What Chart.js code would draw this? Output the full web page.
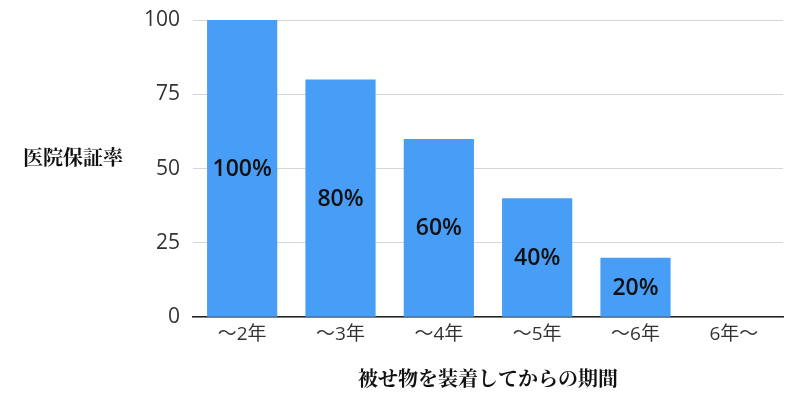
<!DOCTYPE html>
<html lang="ja">
<head>
<meta charset="utf-8">
<script src="https://cdn.jsdelivr.net/npm/chart.js@4"></script>
<style>
  html, body { margin: 0; padding: 0; background: #fff; }
  #wrap { width: 800px; height: 401px; }
</style>
</head>
<body>
<div id="wrap"><canvas id="c" width="800" height="401"></canvas></div>
<script>
  // 保証期間ごとの医院保証率
  const categories = ['〜2年', '〜3年', '〜4年', '〜5年', '〜6年', '6年〜'];
  const rates = [100, 80, 60, 40, 20, 0];
  const yTicks = [0, 25, 50, 75, 100];
  const yTitle = '医院保証率';
  const xTitle = '被せ物を装着してからの期間';

  const cjkSerif = "'Noto Serif CJK JP', 'Noto Sans CJK JP', serif";
  const sans = "'Open Sans', 'Noto Sans CJK JP', sans-serif";

  // 棒の中央に % を描く
  const valueLabels = {
    id: 'valueLabels',
    afterDatasetsDraw(chart) {
      const ctx = chart.ctx;
      const meta = chart.getDatasetMeta(0);
      ctx.save();
      ctx.font = "600 23px 'Open Sans', sans-serif";
      ctx.fillStyle = '#111';
      ctx.textAlign = 'center';
      ctx.textBaseline = 'middle';
      meta.data.forEach((bar, i) => {
        const v = rates[i];
        if (!v) return;
        const { x, y, base } = bar.getProps(['x', 'y', 'base'], true);
        ctx.fillText(v + '%', x, (y + base) / 2 + 1);
      });
      ctx.restore();
    },
  };

  // 横書きの縦軸タイトル
  const sideTitle = {
    id: 'sideTitle',
    afterDraw(chart) {
      const ctx = chart.ctx;
      ctx.save();
      ctx.font = 'bold 20px ' + cjkSerif;
      ctx.fillStyle = '#111';
      ctx.textAlign = 'left';
      ctx.textBaseline = 'middle';
      ctx.fillText(yTitle, 23, 157);
      ctx.restore();
    },
  };

  new Chart(document.getElementById('c'), {
    type: 'bar',
    data: {
      labels: categories,
      datasets: [{
        data: rates,
        backgroundColor: '#489ef7',
        borderWidth: 0,
        categoryPercentage: 1,
        barPercentage: 0.714,
      }],
    },
    options: {
      responsive: false,
      animation: false,
      layout: { padding: { top: 20, right: 17, bottom: 11, left: 0 } },
      plugins: { legend: { display: false }, tooltip: { enabled: false } },
      scales: {
        x: {
          grid: { display: false, drawTicks: false },
          border: { color: '#222', width: 1.5 },
          ticks: { color: '#333', font: { size: 19, family: sans }, padding: 6 },
          title: {
            display: true,
            text: xTitle,
            color: '#111',
            font: { size: 20, weight: 'bold', family: cjkSerif },
            padding: { top: 14, bottom: 0 },
          },
        },
        y: {
          min: 0,
          max: 100,
          afterFit(scale) { scale.width = 193; scale.paddingTop = 0; },
          afterBuildTicks(scale) { scale.ticks = yTicks.map(v => ({ value: v })); },
          grid: { color: '#d6d6d6', drawTicks: false },
          border: { display: false },
          ticks: { color: '#333', font: { size: 21, family: sans }, padding: 13 },
        },
      },
    },
    plugins: [valueLabels, sideTitle],
  });
</script>
</body>
</html>
